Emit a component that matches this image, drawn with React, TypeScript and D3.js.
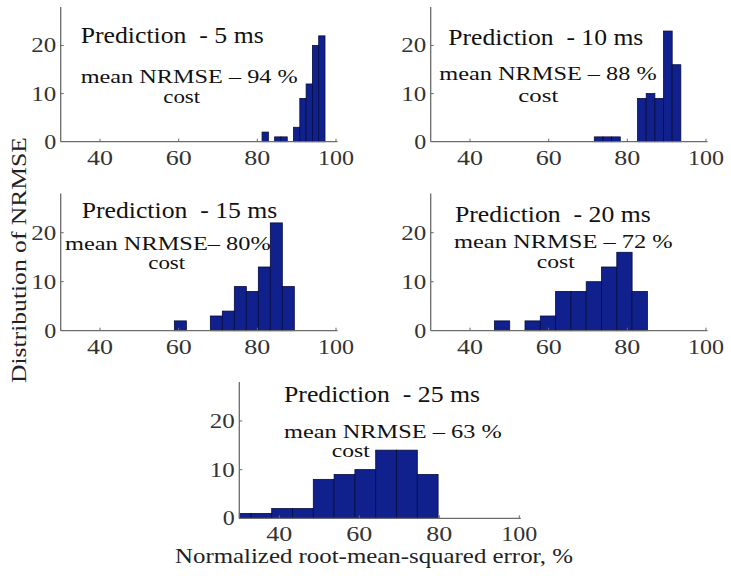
import React from "react";
import * as d3 from "d3";

// ---- data ----
const titles = [
  "Prediction  - 5 ms",
  "Prediction  - 10 ms",
  "Prediction  - 15 ms",
  "Prediction  - 20 ms",
  "Prediction  - 25 ms",
];
const meanTexts = [
  "mean NRMSE – 94 %",
  "mean NRMSE – 88 %",
  "mean NRMSE– 80%",
  "mean NRMSE – 72 %",
  "mean NRMSE – 63 %",
];
const binStarts = [81.2, 71.6, 58.9, 46.2, 27.7];
const binWidths = [1.6, 2.2, 3.05, 3.89, 5.2];
const counts5 = [2, 0, 1, 1, 0, 3, 9, 12, 20, 22];
const counts10 = [1, 1, 1, 0, 0, 9, 10, 9, 23, 16];
const counts15 = [2, 0, 0, 3, 4, 9, 8, 13, 22, 9];
const counts20 = [2, 0, 2, 3, 8, 8, 10, 13, 16, 8];
const counts25 = [1, 1, 2, 2, 8, 9, 10, 14, 14, 9];
const allCounts = [counts5, counts10, counts15, counts20, counts25];
const xTicks = [40, 60, 80, 100];
const yTicks = [0, 10, 20];
const xDomain = [30, 100];
const yDomain = [0, 28];

// ---- layout ----
const panels = [
  { l: 60.7, r: 336, t: 7, b: 141.7,
    title: { x: 80.7, y: 43.3, w: 183 }, mean: { x: 80.7, y: 83, w: 217 }, cost: { cx: 181.7, y: 102.5, w: 37 } },
  { l: 430.7, r: 706, t: 7, b: 141.7,
    title: { x: 448.3, y: 45, w: 195 }, mean: { x: 439.3, y: 80, w: 217.4 }, cost: { cx: 538.3, y: 102, w: 40 } },
  { l: 60.7, r: 336, t: 193.5, b: 330.7,
    title: { x: 81.7, y: 218.3, w: 195.6 }, mean: { x: 65, y: 249.5, w: 205.7 }, cost: { cx: 166.7, y: 268.5, w: 37 } },
  { l: 430.7, r: 706, t: 193.5, b: 330.7,
    title: { x: 455, y: 221.7, w: 195.7 }, mean: { x: 454, y: 248.3, w: 218.7 }, cost: { cx: 555.8, y: 267.5, w: 38 } },
  { l: 239.3, r: 519.3, t: 382, b: 518.3,
    title: { x: 284, y: 402.3, w: 196 }, mean: { x: 284, y: 437.7, w: 217.7 }, cost: { cx: 350.8, y: 457, w: 38 } },
];

const FONT = "Liberation Serif, Tinos, Times New Roman, DejaVu Serif, serif";
const AXIS = "#6b6b6b";
const BAR = "#10208c";
const EDGE = "#050c40";

function Panel({ i }: { i: number }) {
  const p = panels[i];
  const x = d3.scaleLinear().domain(xDomain).range([p.l, p.r]);
  const y = d3.scaleLinear().domain(yDomain).range([p.b, p.t]);
  const counts = allCounts[i];
  const bars = counts.map((c, k) => {
    const x0 = binStarts[i] + k * binWidths[i];
    return { x0, x1: x0 + binWidths[i], c };
  });
  return (
    <g>
      {bars
        .filter((d) => d.c > 0)
        .map((d, k) => (
          <rect
            key={k}
            x={x(Math.max(d.x0, xDomain[0]))}
            y={y(d.c)}
            width={x(d.x1) - x(Math.max(d.x0, xDomain[0]))}
            height={y(0) - y(d.c)}
            fill={BAR}
            stroke={EDGE}
            strokeWidth={0.8}
          />
        ))}
      <line x1={p.l} x2={p.l} y1={p.t} y2={p.b} stroke={AXIS} strokeWidth={1.3} />
      <line x1={p.l} x2={x(100) + 1.5} y1={p.b} y2={p.b} stroke={AXIS} strokeWidth={1.3} />
      {xTicks.map((v) => (
        <g key={v}>
          <line x1={x(v)} x2={x(v)} y1={p.b} y2={p.b - 3} stroke={AXIS} strokeWidth={1} />
          <text
            x={x(v)}
            y={p.b + 23}
            textAnchor="middle"
            fontSize={20}
            fill="#333"
            textLength={v === 100 ? 36 : 26}
            lengthAdjust="spacingAndGlyphs"
          >
            {v}
          </text>
        </g>
      ))}
      {yTicks.map((v) => (
        <g key={v}>
          {v > 0 && <line x1={p.l} x2={p.l + 3} y1={y(v)} y2={y(v)} stroke={AXIS} strokeWidth={1} />}
          <text
            x={p.l - 4.5}
            y={y(v) + 7}
            textAnchor="end"
            fontSize={20}
            fill="#333"
            textLength={v === 0 ? 12 : 25}
            lengthAdjust="spacingAndGlyphs"
          >
            {v}
          </text>
        </g>
      ))}
      <text
        x={p.title.x}
        y={p.title.y}
        fontSize={22.5}
        fill="#111"
        textLength={p.title.w}
        lengthAdjust="spacingAndGlyphs"
        style={{ whiteSpace: "pre" }}
      >
        {titles[i]}
      </text>
      <text
        x={p.mean.x}
        y={p.mean.y}
        fontSize={19.5}
        fill="#111"
        textLength={p.mean.w}
        lengthAdjust="spacingAndGlyphs"
        style={{ whiteSpace: "pre" }}
      >
        {meanTexts[i]}
      </text>
      <text
        x={p.cost.cx - p.cost.w / 2}
        y={p.cost.y}
        fontSize={19}
        fill="#111"
        textLength={p.cost.w}
        lengthAdjust="spacingAndGlyphs"
      >
        cost
      </text>
    </g>
  );
}

export default function App() {
  return (
    <svg
      width={731}
      height={576}
      style={{ position: "absolute", left: 0, top: 0, background: "#fff", fontFamily: FONT }}
    >
      <rect x={0} y={0} width={731} height={576} fill="#fff" />
      {panels.map((_, i) => (
        <Panel key={i} i={i} />
      ))}
      <text
        x={175}
        y={563.3}
        fontSize={22}
        fill="#222"
        textLength={398}
        lengthAdjust="spacingAndGlyphs"
      >
        Normalized root-mean-squared error, %
      </text>
      <text
        transform="translate(26,383) rotate(-90)"
        fontSize={22}
        fill="#222"
        textLength={246}
        lengthAdjust="spacingAndGlyphs"
      >
        Distribution of NRMSE
      </text>
    </svg>
  );
}
